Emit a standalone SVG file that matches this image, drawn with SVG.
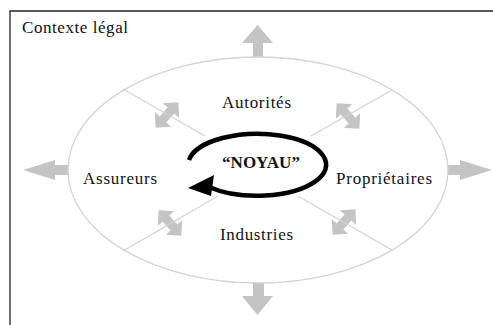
<svg xmlns="http://www.w3.org/2000/svg" width="493" height="325" viewBox="0 0 493 325">
<style>
.lbl{font-family:"Liberation Serif","Times New Roman",serif;font-size:17px;fill:#111}
.ga{fill:#c4c4c4}
.spoke{stroke:#d2d2d2;stroke-width:1.2;fill:none}
</style>
<defs>
<polygon id="dbl" points="-17,0 -6,-11 -6,-4.5 6,-4.5 6,-11 17,0 6,11 6,4.5 -6,4.5 -6,11"/>
</defs>
<rect width="493" height="325" fill="#fff"/>
<g id="frame">
<path d="M10 325 V11 H493" fill="none" stroke="#222" stroke-width="1.3"/>
<text class="lbl" x="22" y="33" textLength="106" lengthAdjust="spacing">Contexte légal</text>
</g>
<g id="outer-arrows" class="ga">
<polygon id="arrow-up" points="253,57 253,43 242,43 257.5,25 273,43 263,43 263,57"/>
<polygon id="arrow-down" points="253,283 253,296 242,296 257.5,315 273,296 264,296 264,283"/>
<polygon id="arrow-left" points="68,165 55,165 55,160 23,170 55,180 55,175 68,175"/>
<polygon id="arrow-right" points="448,165 460,165 460,160 492,170 460,180 460,175 448,175"/>
</g>
<g id="ellipse">
<ellipse cx="258" cy="170" rx="190" ry="113" fill="none" stroke="#d4d4d4" stroke-width="1.3"/>
</g>
<g id="connectors">
<g class="ga">
<use href="#dbl" transform="translate(167,115) rotate(-48)"/>
<use href="#dbl" transform="translate(348,116) rotate(48)"/>
<use href="#dbl" transform="translate(170,223) rotate(48)"/>
<use href="#dbl" transform="translate(344,222) rotate(-48)"/>
</g>
<line class="spoke" x1="123" y1="89" x2="205" y2="136"/>
<line class="spoke" x1="392" y1="90" x2="311" y2="136"/>
<line class="spoke" x1="123" y1="251" x2="218" y2="196"/>
<line class="spoke" x1="392" y1="250" x2="298" y2="196"/>
</g>
<g id="noyau">
<path d="M189 160 A69 31 0 1 1 209 187" fill="none" stroke="#000" stroke-width="4.5"/>
<polygon points="188,188 214,175 211,196" fill="#000"/>
<text class="lbl" x="261" y="168" text-anchor="middle" font-weight="bold" font-size="18">“NOYAU”</text>
</g>
<g id="autorites"><text class="lbl" x="222" y="108" textLength="69" lengthAdjust="spacing">Autorités</text></g>
<g id="assureurs"><text class="lbl" x="83" y="184" textLength="74" lengthAdjust="spacing">Assureurs</text></g>
<g id="proprietaires"><text class="lbl" x="336" y="184" textLength="96" lengthAdjust="spacing">Propriétaires</text></g>
<g id="industries"><text class="lbl" x="220" y="240" textLength="73" lengthAdjust="spacing">Industries</text></g>
</svg>
